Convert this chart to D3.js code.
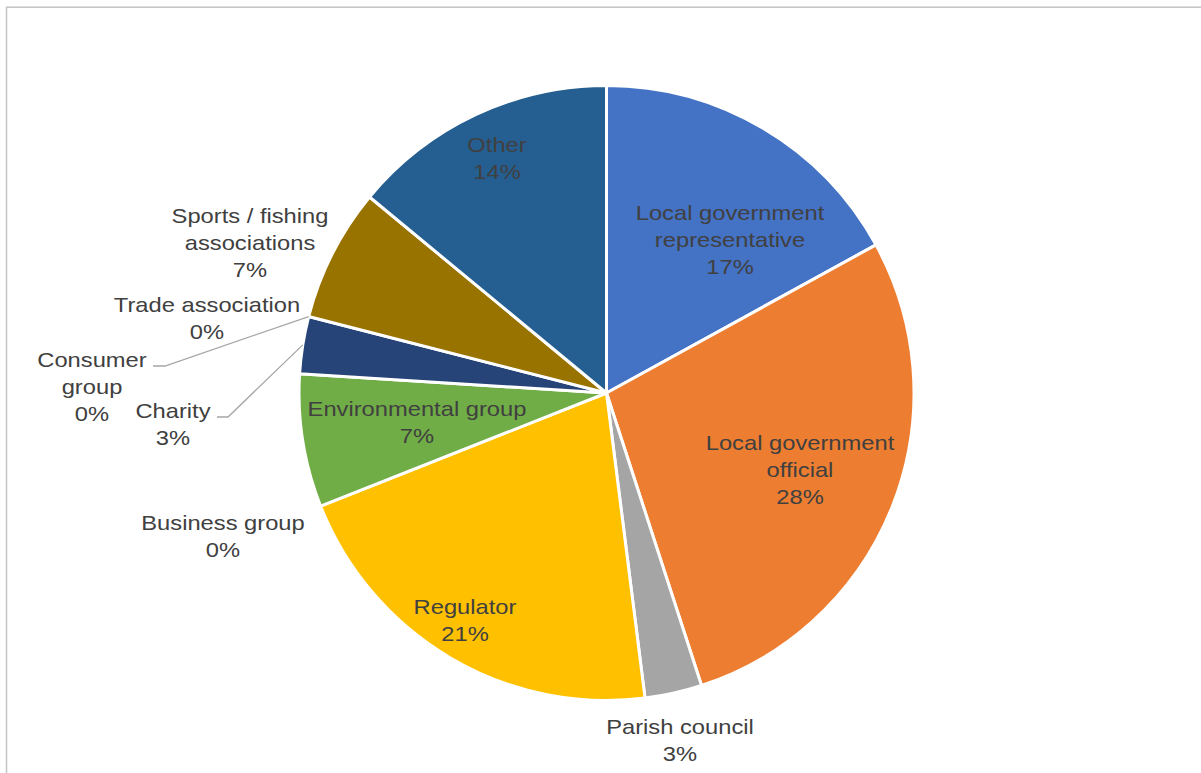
<!DOCTYPE html>
<html>
<head>
<meta charset="utf-8">
<script src="https://cdn.jsdelivr.net/npm/d3@7"></script>
<style>
  html, body { margin: 0; padding: 0; background: #fff; }
  svg { display: block; }
  text { font-family: "Liberation Sans", Arial, sans-serif; fill: #404040; }
</style>
</head>
<body>
<svg id="chart" width="1201" height="773"></svg>
<script>
// Share of respondents by organisation type (%)
const categories = [
  "Local government representative",
  "Local government official",
  "Parish council",
  "Regulator",
  "Business group",
  "Environmental group",
  "Charity",
  "Consumer group",
  "Trade association",
  "Sports / fishing associations",
  "Other"
];
const shares = [17, 28, 3, 21, 0, 7, 3, 0, 0, 7, 14];
const colors = [
  "#4472C4", "#ED7D31", "#A5A5A5", "#FFC000", "#5B9BD5", "#70AD47",
  "#264478", "#9E480E", "#636363", "#997300", "#255E91"
];

// Label placement: wrapped lines, centre x and first baseline y
const labelLayout = [
  { lines: ["Local government", "representative"], x: 730, y: 220 },
  { lines: ["Local government", "official"], x: 800, y: 450 },
  { lines: ["Parish council"], x: 680, y: 734 },
  { lines: ["Regulator"], x: 465, y: 614 },
  { lines: ["Business group"], x: 223, y: 530 },
  { lines: ["Environmental group"], x: 417, y: 416 },
  { lines: ["Charity"], x: 173, y: 418 },
  { lines: ["Consumer", "group"], x: 92, y: 367 },
  { lines: ["Trade association"], x: 207, y: 312 },
  { lines: ["Sports / fishing", "associations"], x: 250, y: 223 },
  { lines: ["Other"], x: 497, y: 152 }
];
// Leader lines: label-side anchor point (the line runs to the slice's outer edge)
const leaders = [
  { index: 6, x: 217, y: 417, elbow: 228 },
  { index: 7, x: 153, y: 366, elbow: 165 }
];

const svg = d3.select("#chart");
const cx = 606.5, cy = 393, r = 307.5;
const lineH = 26.8;

// light chart-area frame
svg.append("rect")
  .attr("x", 6.5).attr("y", 7.2)
  .attr("width", 1400).attr("height", 1000)
  .attr("fill", "none")
  .attr("stroke", "#c4c4c4")
  .attr("stroke-width", 1.5);

const data = categories.map((c, i) => ({ name: c, value: shares[i], i }));

const pie = d3.pie().value(d => d.value).sort(null).startAngle(0).endAngle(2 * Math.PI);
const arcs = pie(data);
const arc = d3.arc().innerRadius(0).outerRadius(r);

const g = svg.append("g").attr("transform", `translate(${cx},${cy})`);

g.selectAll("path.slice")
  .data(arcs.filter(a => a.data.value > 0))
  .join("path")
  .attr("class", "slice")
  .attr("d", arc)
  .attr("fill", d => colors[d.data.i])
  .attr("stroke", "#ffffff")
  .attr("stroke-width", 3)
  .attr("stroke-linejoin", "round");

// leader lines from outside labels to slice edge
leaders.forEach(l => {
  const a = arcs[l.index];
  const mid = (a.startAngle + a.endAngle) / 2;
  const ex = cx + r * Math.sin(mid);
  const ey = cy - r * Math.cos(mid);
  svg.append("polyline")
    .attr("points", `${l.x},${l.y} ${l.elbow},${l.y} ${ex},${ey}`)
    .attr("fill", "none")
    .attr("stroke", "#a6a6a6")
    .attr("stroke-width", 1.3);
});

// data labels: category name plus percentage
labelLayout.forEach((lab, i) => {
  const lines = lab.lines.concat([shares[i] + "%"]);
  lines.forEach((t, k) => {
    svg.append("text")
      .attr("transform", `translate(${lab.x},${lab.y + k * lineH}) scale(1.13,1)`)
      .attr("text-anchor", "middle")
      .attr("font-size", "21px")
      .text(t);
  });
});
</script>
</body>
</html>
